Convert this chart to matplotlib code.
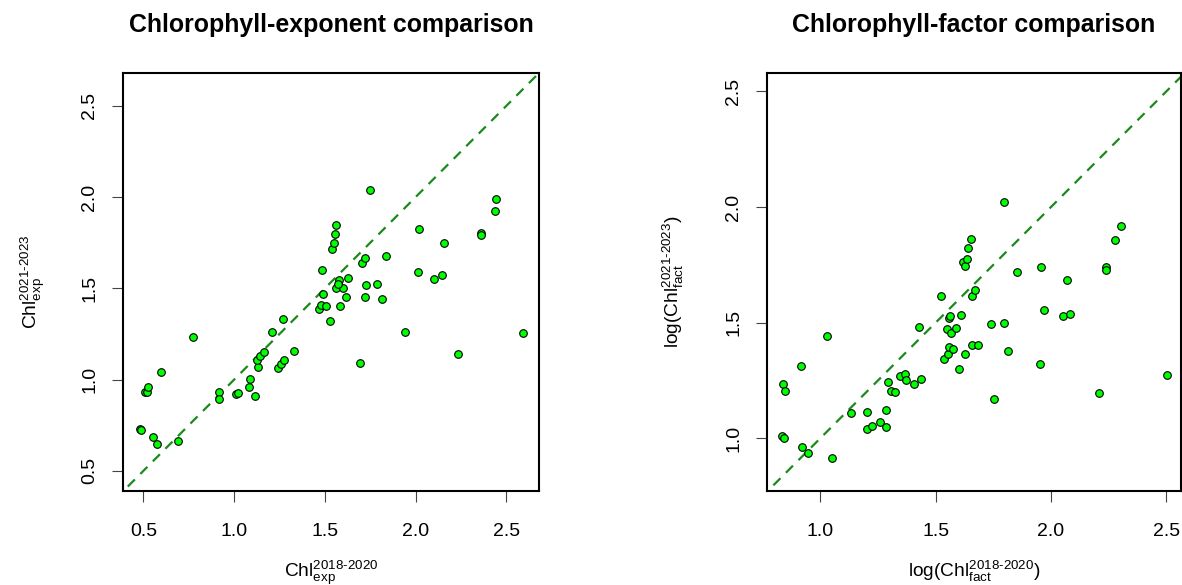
import matplotlib
matplotlib.use("Agg")
import matplotlib.pyplot as plt
import numpy as np

plt.rcParams['font.family'] = ['Liberation Sans', 'DejaVu Sans']
plt.rcParams['mathtext.fontset'] = 'custom'
plt.rcParams['mathtext.rm'] = 'Liberation Sans'
plt.rcParams['mathtext.it'] = 'Liberation Sans:italic'
plt.rcParams['mathtext.bf'] = 'Liberation Sans:bold'

# ---- Data: chlorophyll exponent (left panel) ----
exp_2018_2020 = [0.48, 0.485, 0.555, 0.573, 0.69, 0.509, 0.522, 0.524, 0.60, 0.771,
                 0.918, 0.918, 1.009, 1.024, 1.081, 1.088, 1.115, 1.130, 1.125, 1.145,
                 1.165, 1.207, 1.244, 1.258, 1.277, 1.269, 1.328, 1.469, 1.478, 1.507,
                 1.491, 1.482, 1.531, 1.537, 1.552, 1.557, 1.559, 1.563, 1.577, 1.581,
                 1.601, 1.616, 1.628, 1.693, 1.705, 1.720, 1.722, 1.727, 1.749, 1.79,
                 1.813, 1.837, 1.943, 2.013, 2.020, 2.104, 2.146, 2.156, 2.233, 2.359,
                 2.361, 2.436, 2.443, 2.592, 1.570]
exp_2021_2023 = [0.73, 0.725, 0.684, 0.648, 0.662, 0.931, 0.931, 0.962, 1.044, 1.236,
                 0.934, 0.894, 0.92, 0.925, 0.962, 1.004, 0.911, 1.068, 1.108, 1.130,
                 1.15, 1.263, 1.066, 1.084, 1.108, 1.334, 1.157, 1.385, 1.409, 1.404,
                 1.469, 1.601, 1.321, 1.716, 1.750, 1.798, 1.849, 1.500, 1.546, 1.404,
                 1.504, 1.453, 1.559, 1.093, 1.637, 1.665, 1.453, 1.519, 2.039, 1.524,
                 1.44, 1.679, 1.263, 1.588, 1.827, 1.551, 1.573, 1.750, 1.143, 1.805,
                 1.792, 1.926, 1.990, 1.256, 1.525]

# ---- Data: chlorophyll factor, log scale (right panel) ----
fact_2018_2020 = [0.837, 0.845, 0.835, 0.842, 0.916, 0.922, 0.945, 1.029, 1.049, 1.133,
                  1.204, 1.204, 1.223, 1.257, 1.283, 1.283, 1.293, 1.305, 1.322, 1.344,
                  1.366, 1.373, 1.406, 1.435, 1.429, 1.523, 1.538, 1.555, 1.558, 1.575,
                  1.551, 1.568, 1.587, 1.558, 1.562, 1.601, 1.608, 1.629, 1.620, 1.629,
                  1.636, 1.640, 1.652, 1.656, 1.673, 1.656, 1.686, 1.741, 1.753, 1.798,
                  1.812, 1.798, 1.851, 1.954, 1.958, 1.970, 2.052, 2.071, 2.082, 2.210,
                  2.237, 2.238, 2.277, 2.303, 2.504]
fact_2021_2023 = [1.234, 1.205, 1.012, 1.001, 1.312, 0.964, 0.938, 1.444, 0.916, 1.111,
                  1.115, 1.039, 1.053, 1.072, 1.121, 1.049, 1.244, 1.205, 1.200, 1.268,
                  1.278, 1.250, 1.234, 1.255, 1.483, 1.617, 1.345, 1.366, 1.394, 1.385,
                  1.473, 1.456, 1.479, 1.519, 1.528, 1.299, 1.534, 1.366, 1.762, 1.746,
                  1.775, 1.824, 1.863, 1.617, 1.640, 1.405, 1.405, 1.495, 1.172, 1.500,
                  1.378, 2.024, 1.718, 1.323, 1.740, 1.557, 1.528, 1.684, 1.539, 1.195,
                  1.740, 1.730, 1.857, 1.919, 1.273]

ticks_left = [0.5, 1.0, 1.5, 2.0, 2.5]
ticks_right = [1.0, 1.5, 2.0, 2.5]

W, H = 1182, 585
fig = plt.figure(figsize=(W / 100, H / 100), dpi=100)

ax1 = fig.add_axes([123 / W, (H - 491) / H, 416 / W, 418 / H])
ax2 = fig.add_axes([767 / W, (H - 491) / H, 414 / W, 418 / H])

line_col = '#1a8a1a'
TICK_FS = 14
LAB_FS = 13.8
TITLE_FS = 17.9

def style(ax, xlim, ylim, ticks):
    ax.set_xlim(*xlim)
    ax.set_ylim(*ylim)
    ax.plot([0, 3], [0, 3], linestyle=(0, (4.5, 3.5)), color=line_col, lw=1.6, zorder=1)
    ax.set_xticks(ticks)
    ax.set_yticks(ticks)
    ax.set_xticklabels([f"{t:.1f}" for t in ticks], fontsize=TICK_FS)
    ax.set_yticklabels([f"{t:.1f}" for t in ticks], fontsize=TICK_FS, rotation=90, va='center')
    ax.tick_params(direction='out', length=8, width=0.8, color='#444444')
    ax.tick_params(axis='x', pad=15)
    ax.tick_params(axis='y', pad=10)
    for s in ax.spines.values():
        s.set_linewidth(1.5)

ax1.scatter(exp_2018_2020, exp_2021_2023, s=30, c='#00ff00', edgecolors='black',
            linewidths=0.8, zorder=3)
style(ax1, (0.388, 2.68), (0.39, 2.68), ticks_left)
ax1.set_xlabel(r'$\mathrm{Chl}_{\mathrm{exp}}^{\mathrm{2018\text{-}2020}}$', fontsize=LAB_FS)
ax1.set_ylabel(r'$\mathrm{Chl}_{\mathrm{exp}}^{\mathrm{2021\text{-}2023}}$', fontsize=LAB_FS)
ax1.xaxis.set_label_coords(0.5, -0.162)
ax1.yaxis.set_label_coords(-0.183, 0.5)

ax2.scatter(fact_2018_2020, fact_2021_2023, s=30, c='#00ff00', edgecolors='black',
            linewidths=0.8, zorder=3)
style(ax2, (0.769, 2.564), (0.772, 2.58), ticks_right)
ax2.set_xlabel(r'$\mathrm{log(Chl}_{\mathrm{fact}}^{\mathrm{2018\text{-}2020}}\mathrm{)}$', fontsize=LAB_FS)
ax2.set_ylabel(r'$\mathrm{log(Chl}_{\mathrm{fact}}^{\mathrm{2021\text{-}2023}}\mathrm{)}$', fontsize=LAB_FS)
ax2.xaxis.set_label_coords(0.5, -0.163)
ax2.yaxis.set_label_coords(-0.195, 0.5)

fig.text(331 / W, 1 - 25 / H, 'Chlorophyll-exponent comparison', fontsize=TITLE_FS,
         fontweight='bold', ha='center', va='center')
fig.text(974 / W, 1 - 25 / H, 'Chlorophyll-factor comparison', fontsize=TITLE_FS,
         fontweight='bold', ha='center', va='center')

fig.savefig('out.png', dpi=100, facecolor='white')
